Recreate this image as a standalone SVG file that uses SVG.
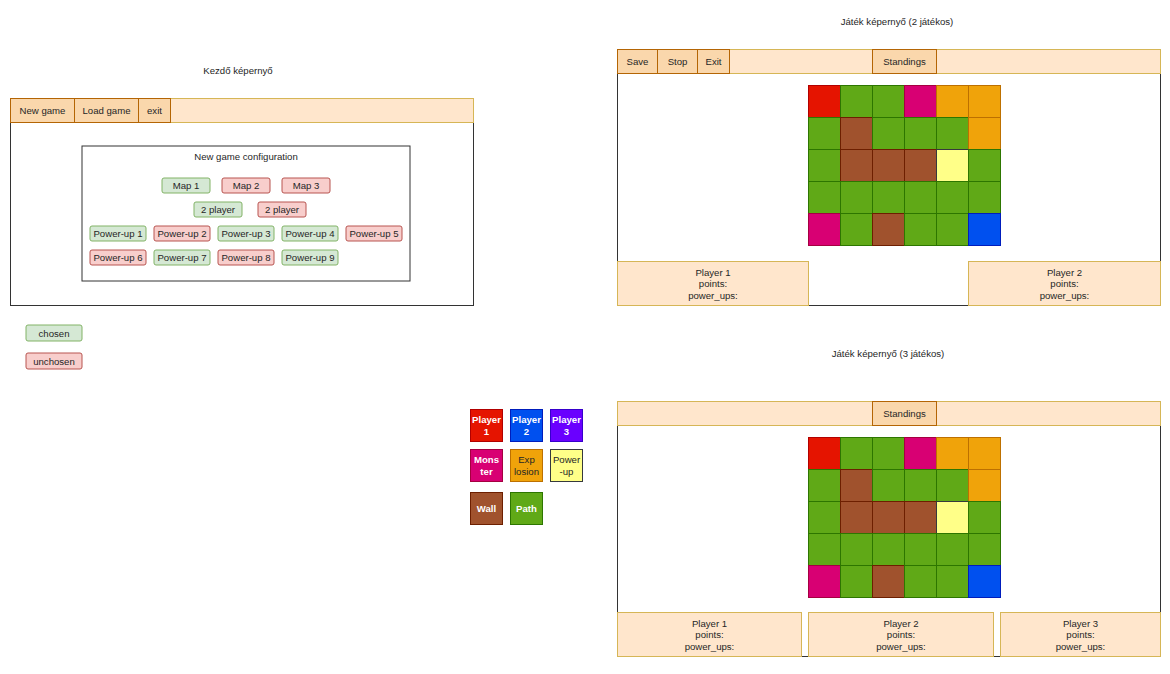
<svg xmlns="http://www.w3.org/2000/svg" width="1170" height="674" viewBox="0 0 1170 674">
<style>
text{font-family:"Liberation Sans",Arial,sans-serif;font-size:9.6px;fill:#262626;text-anchor:middle;dominant-baseline:central}
.win{fill:#fff;stroke:#333;stroke-width:1}
.bar{fill:#ffe6cc;stroke:#d6b656;stroke-width:1}
.btn{fill:#fad7ac;stroke:#b46504;stroke-width:1}
.ch{fill:#d5e8d4;stroke:#82b366}
.un{fill:#f8cecc;stroke:#b85450}
.pb{fill:#ffe6cc;stroke:#d6b656}
.w{fill:#fff;font-weight:bold}
.p1{fill:#e51400;stroke:#b20000}
.p2{fill:#0050ef;stroke:#001dbc}
.p3{fill:#6a00ff;stroke:#3700cc}
.mo{fill:#d80073;stroke:#a50040}
.ex{fill:#f0a30a;stroke:#bd7000}
.pu{fill:#ffff88;stroke:#36393d}
.wa{fill:#a0522d;stroke:#6d1f00}
.pa{fill:#60a917;stroke:#2d7600}
</style>
<defs>
<g id="grid">
<rect class="p1" x="0" y="0" width="32" height="32"/>
<rect class="pa" x="32" y="0" width="32" height="32"/>
<rect class="pa" x="64" y="0" width="32" height="32"/>
<rect class="mo" x="96" y="0" width="32" height="32"/>
<rect class="ex" x="128" y="0" width="32" height="32"/>
<rect class="ex" x="160" y="0" width="32" height="32"/>
<rect class="pa" x="0" y="32" width="32" height="32"/>
<rect class="wa" x="32" y="32" width="32" height="32"/>
<rect class="pa" x="64" y="32" width="32" height="32"/>
<rect class="pa" x="96" y="32" width="32" height="32"/>
<rect class="pa" x="128" y="32" width="32" height="32"/>
<rect class="ex" x="160" y="32" width="32" height="32"/>
<rect class="pa" x="0" y="64" width="32" height="32"/>
<rect class="wa" x="32" y="64" width="32" height="32"/>
<rect class="wa" x="64" y="64" width="32" height="32"/>
<rect class="wa" x="96" y="64" width="32" height="32"/>
<rect class="pu" x="128" y="64" width="32" height="32"/>
<rect class="pa" x="160" y="64" width="32" height="32"/>
<rect class="pa" x="0" y="96" width="32" height="32"/>
<rect class="pa" x="32" y="96" width="32" height="32"/>
<rect class="pa" x="64" y="96" width="32" height="32"/>
<rect class="pa" x="96" y="96" width="32" height="32"/>
<rect class="pa" x="128" y="96" width="32" height="32"/>
<rect class="pa" x="160" y="96" width="32" height="32"/>
<rect class="mo" x="0" y="128" width="32" height="32"/>
<rect class="pa" x="32" y="128" width="32" height="32"/>
<rect class="wa" x="64" y="128" width="32" height="32"/>
<rect class="pa" x="96" y="128" width="32" height="32"/>
<rect class="pa" x="128" y="128" width="32" height="32"/>
<rect class="p2" x="160" y="128" width="32" height="32"/>
</g>
</defs>

<g id="start-screen">
<text x="238" y="70">Kezdő képernyő</text>
<rect class="win" x="10.5" y="122.5" width="463" height="183"/>
<rect class="bar" x="10.5" y="98.5" width="463" height="24"/>
<rect class="btn" x="10.5" y="98.5" width="64" height="24"/><text x="42.5" y="110">New game</text>
<rect class="btn" x="74.5" y="98.5" width="64" height="24"/><text x="106.5" y="110">Load game</text>
<rect class="btn" x="138.5" y="98.5" width="32" height="24"/><text x="154.5" y="110">exit</text>
</g>

<g id="config">
<rect class="win" x="82" y="146" width="328" height="135"/>
<text x="246" y="156">New game configuration</text>
<rect class="ch" x="162" y="178" width="48" height="15" rx="2"/><text x="186" y="185.5">Map 1</text>
<rect class="un" x="222" y="178" width="48" height="15" rx="2"/><text x="246" y="185.5">Map 2</text>
<rect class="un" x="282" y="178" width="48" height="15" rx="2"/><text x="306" y="185.5">Map 3</text>
<rect class="ch" x="194" y="202" width="48" height="15" rx="2"/><text x="218" y="209.5">2 player</text>
<rect class="un" x="258" y="202" width="48" height="15" rx="2"/><text x="282" y="209.5">2 player</text>
<rect class="ch" x="90" y="226" width="56" height="15" rx="2"/><text x="118" y="233.5">Power-up 1</text>
<rect class="un" x="154" y="226" width="56" height="15" rx="2"/><text x="182" y="233.5">Power-up 2</text>
<rect class="ch" x="218" y="226" width="56" height="15" rx="2"/><text x="246" y="233.5">Power-up 3</text>
<rect class="ch" x="282" y="226" width="56" height="15" rx="2"/><text x="310" y="233.5">Power-up 4</text>
<rect class="un" x="346" y="226" width="56" height="15" rx="2"/><text x="374" y="233.5">Power-up 5</text>
<rect class="un" x="90" y="250" width="56" height="15" rx="2"/><text x="118" y="257.5">Power-up 6</text>
<rect class="ch" x="154" y="250" width="56" height="15" rx="2"/><text x="182" y="257.5">Power-up 7</text>
<rect class="un" x="218" y="250" width="56" height="15" rx="2"/><text x="246" y="257.5">Power-up 8</text>
<rect class="ch" x="282" y="250" width="56" height="15" rx="2"/><text x="310" y="257.5">Power-up 9</text>
</g>

<g id="legend-choice">
<rect class="ch" x="26" y="325" width="56" height="16" rx="2"/><text x="54" y="333">chosen</text>
<rect class="un" x="26" y="353" width="56" height="16" rx="2"/><text x="54" y="361">unchosen</text>
</g>

<g id="legend-tiles">
<rect class="p1" x="470.5" y="409.5" width="32" height="32"/><text class="w" x="486.5" y="419.5">Player</text><text class="w" x="486.5" y="431.5">1</text>
<rect class="p2" x="510.5" y="409.5" width="32" height="32"/><text class="w" x="526.5" y="419.5">Player</text><text class="w" x="526.5" y="431.5">2</text>
<rect class="p3" x="550.5" y="409.5" width="32" height="32"/><text class="w" x="566.5" y="419.5">Player</text><text class="w" x="566.5" y="431.5">3</text>
<rect class="mo" x="470.5" y="449.5" width="32" height="32"/><text class="w" x="486.5" y="459.5">Mons</text><text class="w" x="486.5" y="471">ter</text>
<rect class="ex" x="510.5" y="449.5" width="32" height="32"/><text x="526.5" y="459.5">Exp</text><text x="526.5" y="471">losion</text>
<rect class="pu" x="550.5" y="449.5" width="32" height="32"/><text x="566.5" y="459.5">Power</text><text x="566.5" y="471">-up</text>
<rect class="wa" x="470.5" y="492.5" width="32" height="32"/><text class="w" x="486.5" y="508.5">Wall</text>
<rect class="pa" x="510.5" y="492.5" width="32" height="32"/><text class="w" x="526.5" y="508.5">Path</text>
</g>

<g id="game-2p">
<text x="897" y="21">Játék képernyő (2 játékos)</text>
<rect class="win" x="617.5" y="73.5" width="543" height="232"/>
<rect class="bar" x="617.5" y="49.5" width="543" height="24"/>
<rect class="btn" x="617.5" y="49.5" width="40" height="24"/><text x="637.5" y="61">Save</text>
<rect class="btn" x="657.5" y="49.5" width="40" height="24"/><text x="677.5" y="61">Stop</text>
<rect class="btn" x="697.5" y="49.5" width="32" height="24"/><text x="713.5" y="61">Exit</text>
<rect class="btn" x="872.5" y="49.5" width="64" height="24"/><text x="904.5" y="61">Standings</text>
<use href="#grid" x="808.5" y="85.5"/>
<rect class="pb" x="617.5" y="261.5" width="191" height="44"/>
<text x="713" y="272">Player 1</text><text x="713" y="283.5">points:</text><text x="713" y="295">power_ups:</text>
<rect class="pb" x="968.5" y="261.5" width="192" height="44"/>
<text x="1064.5" y="272">Player 2</text><text x="1064.5" y="283.5">points:</text><text x="1064.5" y="295">power_ups:</text>
</g>

<g id="game-3p">
<text x="888" y="353">Játék képernyő (3 játékos)</text>
<rect class="win" x="617.5" y="425.5" width="543" height="231"/>
<rect class="bar" x="617.5" y="401.5" width="543" height="24"/>
<rect class="btn" x="872.5" y="401.5" width="64" height="24"/><text x="904.5" y="413">Standings</text>
<use href="#grid" x="808.5" y="437.5"/>
<rect class="pb" x="617.5" y="612.5" width="184" height="44"/>
<text x="709.5" y="623">Player 1</text><text x="709.5" y="634.5">points:</text><text x="709.5" y="646">power_ups:</text>
<rect class="pb" x="808.5" y="612.5" width="185" height="44"/>
<text x="901" y="623">Player 2</text><text x="901" y="634.5">points:</text><text x="901" y="646">power_ups:</text>
<rect class="pb" x="1000.5" y="612.5" width="160" height="44"/>
<text x="1080.5" y="623">Player 3</text><text x="1080.5" y="634.5">points:</text><text x="1080.5" y="646">power_ups:</text>
</g>
<g id="connectors"/>
</svg>
